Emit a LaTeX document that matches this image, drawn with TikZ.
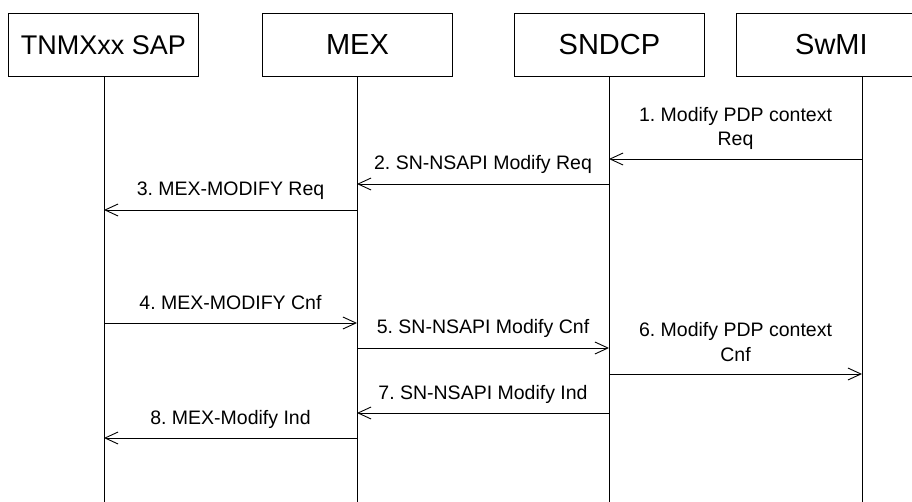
\documentclass[tikz,border=0pt]{standalone}
\usepackage{fontspec}
\setmainfont{Liberation Sans}
\usetikzlibrary{arrows.meta}
\begin{document}
\frenchspacing
\begin{tikzpicture}[x=1pt,y=-1pt,
  ent/.style={draw=black, line width=0.9pt, minimum width=190pt, minimum height=63pt,
    inner sep=0pt, font=\fontsize{29}{34}\selectfont, anchor=north west},
  life/.style={draw=black, line width=0.9pt},
  msg/.style={draw=black, line width=0.9pt, -{Straight Barb[length=13pt,width=12pt,line width=0.9pt]}},
  lbl/.style={font=\fontsize{19.5}{24.5}\selectfont\frenchspacing, align=center, anchor=base, inner sep=0pt}]
\useasboundingbox (0,0) rectangle (912,502);
% entities
\node[ent, font=\fontsize{27}{32}\selectfont] (sap) at (8,13) {TNMXxx SAP};
\node[ent] (mex) at (262,13) {MEX};
\node[ent] (snd) at (514,13) {SNDCP};
\node[ent] (sw) at (736,13) {SwMI};
% lifeline ends
\coordinate (sapB) at (104,502);
\coordinate (mexB) at (357,502);
\coordinate (sndB) at (609,502);
\coordinate (swB) at (862,502);
\draw[life] (sap.south -| sapB) -- (sapB);
\draw[life] (mex.south -| mexB) -- (mexB);
\draw[life] (snd.south -| sndB) -- (sndB);
\draw[life] (sw.south -| swB) -- (swB);
% messages
\draw[msg] (swB |- 0,159) -- (sndB |- 0,159)
  node[lbl, midway, yshift=13pt] {1. Modify PDP context\\Req};
\draw[msg] (sndB |- 0,184) -- (mexB |- 0,184)
  node[lbl, midway, yshift=14pt] {2. SN-NSAPI Modify Req};
\draw[msg] (mexB |- 0,210) -- (sapB |- 0,210)
  node[lbl, midway, yshift=14pt] {3. MEX-MODIFY Req};
\draw[msg] (sapB |- 0,323) -- (mexB |- 0,323)
  node[lbl, midway, yshift=14pt] {4. MEX-MODIFY Cnf};
\draw[msg] (mexB |- 0,348) -- (sndB |- 0,348)
  node[lbl, midway, yshift=14pt] {5. SN-NSAPI Modify Cnf};
\draw[msg] (sndB |- 0,374) -- (swB |- 0,374)
  node[lbl, midway, yshift=13pt] {6. Modify PDP context\\Cnf};
\draw[msg] (sndB |- 0,413) -- (mexB |- 0,413)
  node[lbl, midway, yshift=14pt] {7. SN-NSAPI Modify Ind};
\draw[msg] (mexB |- 0,438) -- (sapB |- 0,438)
  node[lbl, midway, yshift=14pt] {8. MEX-Modify Ind};
\end{tikzpicture}
\end{document}
